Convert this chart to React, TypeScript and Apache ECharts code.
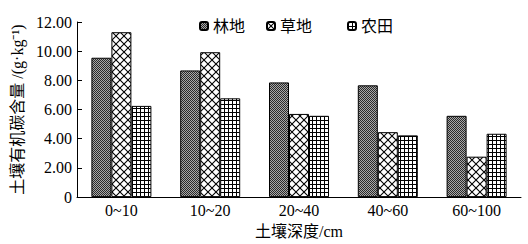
import React, { useEffect, useRef } from "react";
import * as echarts from "echarts";

const categories = ["0~10", "10~20", "20~40", "40~60", "60~100"];
const seriesNames = ["林地", "草地", "农田"];
const forest = [9.55, 8.68, 7.86, 7.66, 5.57];
const grass = [11.3, 9.93, 5.7, 4.45, 2.77];
const crop = [6.25, 6.77, 5.57, 4.23, 4.34];

function makeForest() {
  const c = document.createElement("canvas");
  c.width = 2;
  c.height = 2;
  const g = c.getContext("2d")!;
  g.fillStyle = "#a8a8a8";
  g.fillRect(0, 0, 2, 2);
  g.fillStyle = "#2a2a2a";
  g.fillRect(0, 0, 1, 1);
  g.fillRect(1, 1, 1, 1);
  return c;
}
function makeGrass() {
  const c = document.createElement("canvas");
  c.width = 8;
  c.height = 8;
  const g = c.getContext("2d")!;
  g.fillStyle = "#fff";
  g.fillRect(0, 0, 8, 8);
  g.strokeStyle = "#000";
  g.lineWidth = 1.1;
  g.beginPath();
  g.moveTo(-1, -1);
  g.lineTo(9, 9);
  g.moveTo(-1, 9);
  g.lineTo(9, -1);
  g.stroke();
  return c;
}
function makeCrop() {
  const c = document.createElement("canvas");
  c.width = 4;
  c.height = 4;
  const g = c.getContext("2d")!;
  g.fillStyle = "#fff";
  g.fillRect(0, 0, 4, 4);
  g.fillStyle = "#000";
  g.fillRect(0, 0, 4, 1);
  g.fillRect(0, 0, 1, 4);
  return c;
}

const FONT = "'Liberation Serif', 'Times New Roman', 'Noto Sans CJK SC', serif";
const FS = 16;

export default function App() {
  const ref = useRef<HTMLDivElement>(null);
  useEffect(() => {
    if (!ref.current) return;
    const chart = echarts.init(ref.current, null, { renderer: "svg" });
    const fills = [makeForest(), makeGrass(), makeCrop()];
    const datas = [forest, grass, crop];
    const legendLefts = [199, 266, 347];
    chart.setOption({
      animation: false,
      backgroundColor: "#fff",
      textStyle: { fontFamily: FONT, color: "#000" },
      legend: seriesNames.map((n, i) => ({
        data: [n],
        left: legendLefts[i],
        top: 18,
        itemWidth: 8,
        itemHeight: 8,
        itemGap: 0,
        padding: 0,
        textStyle: { fontSize: FS, color: "#000", fontFamily: FONT, padding: [0, 0, 0, 0] },
      })),
      grid: { left: 77, right: 7, top: 22, bottom: 46 },
      xAxis: {
        type: "category",
        data: categories,
        axisLine: { lineStyle: { color: "#000", width: 1 } },
        axisTick: { inside: true, length: 8, lineStyle: { color: "#000" } },
        axisLabel: { fontSize: FS, color: "#000", fontFamily: FONT, margin: 5 },
        name: "土壤深度/cm",
        nameLocation: "middle",
        nameGap: 24,
        nameTextStyle: { fontSize: FS, color: "#000", fontFamily: FONT },
      },
      yAxis: {
        type: "value",
        min: 0,
        max: 12,
        interval: 2,
        axisLine: { show: true, lineStyle: { color: "#000", width: 1 } },
        axisTick: { show: true, inside: true, length: 5, lineStyle: { color: "#000" } },
        splitLine: { show: false },
        axisLabel: {
          fontSize: FS,
          color: "#000",
          fontFamily: FONT,
          margin: 5,
          formatter: (v: number) => (v === 0 ? "0" : v.toFixed(2)),
        },
        name: "土壤有机碳含量 /(g·kg⁻¹)",
        nameLocation: "middle",
        nameGap: 51,
        nameTextStyle: { fontSize: FS, color: "#000", fontFamily: FONT },
      },
      series: seriesNames.map((n, i) => ({
        name: n,
        type: "bar",
        data: datas[i],
        barWidth: 20,
        barGap: "0%",
        itemStyle: {
          color: { image: fills[i], repeat: "repeat" },
          borderColor: "#000",
          borderWidth: 1,
        },
      })),
    });
    return () => chart.dispose();
  }, []);
  return (
    <div
      ref={ref}
      style={{ position: "fixed", left: 0, top: 0, width: 528, height: 244 }}
    />
  );
}
